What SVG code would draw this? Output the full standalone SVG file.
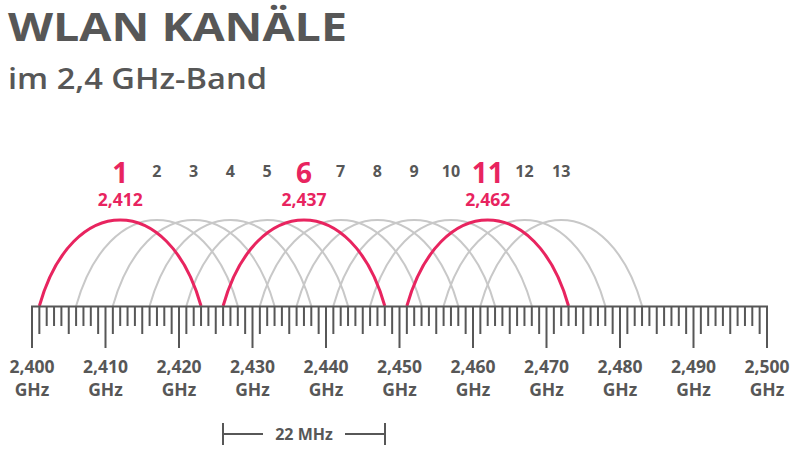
<svg xmlns="http://www.w3.org/2000/svg" width="800" height="450" viewBox="0 0 800 450">
<style>
text{font-family:"Open Sans","Noto Sans","DejaVu Sans",sans-serif;font-weight:bold;fill:#575757;text-anchor:middle}
.title{text-anchor:start;font-size:40px}
.sub{text-anchor:start;font-size:29px;font-weight:600}
.ch{font-size:16px}
.chr{font-size:28px;fill:#e8245f}
.fr{font-size:17.5px;fill:#e8245f}
.ax{font-size:17.5px}
.arc{fill:none;stroke:#c8c8c8;stroke-width:2}
.arcr{fill:none;stroke:#e8245f;stroke-width:3}
.tick{fill:none;stroke:#575757;stroke-width:2}
</style>
<rect width="800" height="450" fill="#ffffff"/>
<g id="title">
<text class="title" x="8" y="41" textLength="339" lengthAdjust="spacingAndGlyphs">WLAN KANÄLE</text>
<text class="sub" x="8" y="89" textLength="259" lengthAdjust="spacingAndGlyphs">im 2,4 GHz-Band</text>
</g>
<g id="channels-gray">
<path id="ch2" class="arc" d="M76.1 306C108.4 191.3 205.5 191.3 237.8 306"/>
<path id="ch3" class="arc" d="M112.85 306C145.15 191.3 242.25 191.3 274.55 306"/>
<path id="ch4" class="arc" d="M149.6 306C181.9 191.3 279 191.3 311.3 306"/>
<path id="ch5" class="arc" d="M186.35 306C218.65 191.3 315.75 191.3 348.05 306"/>
<path id="ch7" class="arc" d="M259.85 306C292.15 191.3 389.25 191.3 421.55 306"/>
<path id="ch8" class="arc" d="M296.6 306C328.9 191.3 426 191.3 458.3 306"/>
<path id="ch9" class="arc" d="M333.35 306C365.65 191.3 462.75 191.3 495.05 306"/>
<path id="ch10" class="arc" d="M370.1 306C402.4 191.3 499.5 191.3 531.8 306"/>
<path id="ch12" class="arc" d="M443.6 306C475.9 191.3 573 191.3 605.3 306"/>
<path id="ch13" class="arc" d="M480.35 306C512.65 191.3 609.75 191.3 642.05 306"/>
</g>
<g id="channels-red">
<path id="ch1" class="arcr" d="M39.35 306C71.65 191.3 168.75 191.3 201.05 306"/>
<path id="ch6" class="arcr" d="M223.1 306C255.4 191.3 352.5 191.3 384.8 306"/>
<path id="ch11" class="arcr" d="M406.85 306C439.15 191.3 536.25 191.3 568.55 306"/>
</g>
<g id="channel-labels">
<text class="chr" x="120.2" y="183">1</text>
<text class="ch" x="156.95" y="177">2</text>
<text class="ch" x="193.7" y="177">3</text>
<text class="ch" x="230.45" y="177">4</text>
<text class="ch" x="267.2" y="177">5</text>
<text class="chr" x="303.95" y="183">6</text>
<text class="ch" x="340.7" y="177">7</text>
<text class="ch" x="377.45" y="177">8</text>
<text class="ch" x="414.2" y="177">9</text>
<text class="ch" x="450.95" y="177">10</text>
<text class="chr" x="487.7" y="183">11</text>
<text class="ch" x="524.45" y="177">12</text>
<text class="ch" x="561.2" y="177">13</text>
<text class="fr" x="120.2" y="206">2,412</text>
<text class="fr" x="303.95" y="206">2,437</text>
<text class="fr" x="487.7" y="206">2,462</text>
</g>
<g id="axis">
<path class="tick" d="M31 306.5H768"/>
<path class="tick" d="M32 306V348M105.5 306V348M179 306V348M252.5 306V348M326 306V348M399.5 306V348M473 306V348M546.5 306V348M620 306V348M693.5 306V348M767 306V348"/>
<path class="tick" d="M39.35 306V334M68.75 306V334M98.15 306V334M112.85 306V334M142.25 306V334M171.65 306V334M186.35 306V334M215.75 306V334M245.15 306V334M259.85 306V334M289.25 306V334M318.65 306V334M333.35 306V334M362.75 306V334M392.15 306V334M406.85 306V334M436.25 306V334M465.65 306V334M480.35 306V334M509.75 306V334M539.15 306V334M553.85 306V334M583.25 306V334M612.65 306V334M627.35 306V334M656.75 306V334M686.15 306V334M700.85 306V334M730.25 306V334M759.65 306V334"/>
<path class="tick" d="M46.7 306V326M54.05 306V326M61.4 306V326M76.1 306V326M83.45 306V326M90.8 306V326M120.2 306V326M127.55 306V326M134.9 306V326M149.6 306V326M156.95 306V326M164.3 306V326M193.7 306V326M201.05 306V326M208.4 306V326M223.1 306V326M230.45 306V326M237.8 306V326M267.2 306V326M274.55 306V326M281.9 306V326M296.6 306V326M303.95 306V326M311.3 306V326M340.7 306V326M348.05 306V326M355.4 306V326M370.1 306V326M377.45 306V326M384.8 306V326M414.2 306V326M421.55 306V326M428.9 306V326M443.6 306V326M450.95 306V326M458.3 306V326M487.7 306V326M495.05 306V326M502.4 306V326M517.1 306V326M524.45 306V326M531.8 306V326M561.2 306V326M568.55 306V326M575.9 306V326M590.6 306V326M597.95 306V326M605.3 306V326M634.7 306V326M642.05 306V326M649.4 306V326M664.1 306V326M671.45 306V326M678.8 306V326M708.2 306V326M715.55 306V326M722.9 306V326M737.6 306V326M744.95 306V326M752.3 306V326"/>
</g>
<g id="axis-labels">
<text class="ax" x="32" y="373">2,400</text><text class="ax" x="32" y="396">GHz</text>
<text class="ax" x="105.5" y="373">2,410</text><text class="ax" x="105.5" y="396">GHz</text>
<text class="ax" x="179" y="373">2,420</text><text class="ax" x="179" y="396">GHz</text>
<text class="ax" x="252.5" y="373">2,430</text><text class="ax" x="252.5" y="396">GHz</text>
<text class="ax" x="326" y="373">2,440</text><text class="ax" x="326" y="396">GHz</text>
<text class="ax" x="399.5" y="373">2,450</text><text class="ax" x="399.5" y="396">GHz</text>
<text class="ax" x="473" y="373">2,460</text><text class="ax" x="473" y="396">GHz</text>
<text class="ax" x="546.5" y="373">2,470</text><text class="ax" x="546.5" y="396">GHz</text>
<text class="ax" x="620" y="373">2,480</text><text class="ax" x="620" y="396">GHz</text>
<text class="ax" x="693.5" y="373">2,490</text><text class="ax" x="693.5" y="396">GHz</text>
<text class="ax" x="767" y="373">2,500</text><text class="ax" x="767" y="396">GHz</text>
</g>
<g id="bandwidth">
<path class="tick" d="M223 423V445M385 423V445M223 434H263M345 434H385"/>
<text class="ch" x="304" y="440">22 MHz</text>
</g>
</svg>
